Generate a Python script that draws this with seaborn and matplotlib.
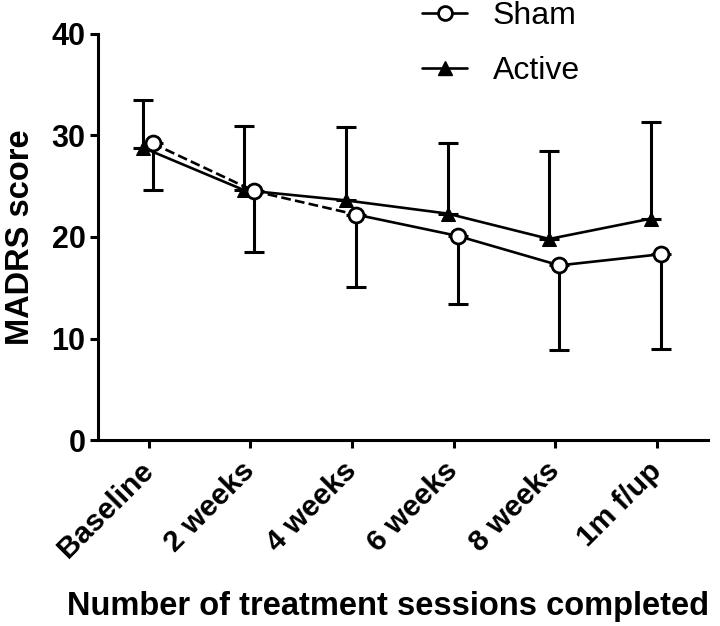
import numpy as np
import pandas as pd
import matplotlib.pyplot as plt
from matplotlib.lines import Line2D
import seaborn as sns

sessions = ["Baseline", "2 weeks", "4 weeks", "6 weeks", "8 weeks", "1m f/up"]
sham_mean = [29.2, 24.5, 22.2, 20.1, 17.2, 18.3]
sham_low = [24.6, 18.5, 15.1, 13.4, 8.9, 9.0]
active_mean = [28.8, 24.6, 23.6, 22.3, 19.8, 21.8]
active_high = [33.5, 30.9, 30.8, 29.2, 28.5, 31.3]

sns.set_theme(style="ticks", rc={
    "text.color": "black", "axes.labelcolor": "black", "axes.edgecolor": "black",
    "xtick.color": "black", "ytick.color": "black",
})
plt.rcParams["font.family"] = ["Liberation Sans", "DejaVu Sans"]

pos = np.arange(len(sessions))
df = pd.DataFrame({
    "pos": pos,
    "sham_x": pos + 0.04,
    "active_x": pos - 0.06,
    "sham": sham_mean,
    "active": active_mean,
})

fig = plt.figure(figsize=(7.2, 6.26), dpi=100)
ax = fig.add_axes([0.136, 0.297, 0.847, 0.649])

lw = 1.9
# Active: solid line, upward error bars
sns.lineplot(data=df, x="active_x", y="active", ax=ax, color="black", lw=lw,
             marker="^", markersize=10.5, markeredgecolor="black", zorder=3)
ax.errorbar(df["active_x"], df["active"],
            yerr=[np.zeros(len(pos)), np.array(active_high) - np.array(active_mean)],
            fmt="none", ecolor="black", elinewidth=2.2, capsize=7, capthick=2.2, zorder=2)

# Sham: dashed for first two intervals, solid afterwards, downward error bars
sns.lineplot(data=df.iloc[:3], x="sham_x", y="sham", ax=ax, color="black", lw=lw,
             linestyle="--", zorder=4)
sns.lineplot(data=df.iloc[2:], x="sham_x", y="sham", ax=ax, color="black", lw=lw, zorder=4)
ax.errorbar(df["sham_x"], df["sham"],
            yerr=[np.array(sham_mean) - np.array(sham_low), np.zeros(len(pos))],
            fmt="none", ecolor="black", elinewidth=2.2, capsize=7, capthick=2.2, zorder=2)
sns.scatterplot(data=df, x="sham_x", y="sham", ax=ax, marker="o", s=115,
                facecolor="white", edgecolor="black", linewidth=2, zorder=5)

ax.set_xlim(-0.5, 5.5)
ax.set_ylim(0, 40)
ax.set_yticks([0, 10, 20, 30, 40])
ax.set_xticks(pos)
ax.set_xticklabels(sessions, rotation=45, ha="right", va="center",
                   rotation_mode="anchor", fontsize=21.5, fontweight="bold")
for t in ax.get_yticklabels():
    t.set_fontsize(22)
    t.set_fontweight("bold")
ax.set_xlabel("Number of treatment sessions completed", fontsize=23.5,
              fontweight="bold")
ax.xaxis.set_label_coords(0.475, -0.372)
ax.set_ylabel("MADRS score", fontsize=23.5, fontweight="bold", labelpad=11)

sns.despine(ax=ax)
for s in ["left", "bottom"]:
    ax.spines[s].set_linewidth(2.2)
ax.tick_params(width=2.2, length=6, direction="out", pad=3)
ax.tick_params(axis="x", pad=13)

handles = [
    Line2D([], [], color="black", lw=lw, marker="o", markersize=10,
           markerfacecolor="white", markeredgewidth=2),
    Line2D([], [], color="black", lw=lw, marker="^", markersize=10.5),
]
ax.legend(handles, ["Sham", "Active"], loc="upper left",
          bbox_to_anchor=(0.485, 1.152), frameon=False, fontsize=23,
          handlelength=1.4, labelspacing=0.8, handletextpad=0.8)

plt.savefig("out.png", dpi=100)
